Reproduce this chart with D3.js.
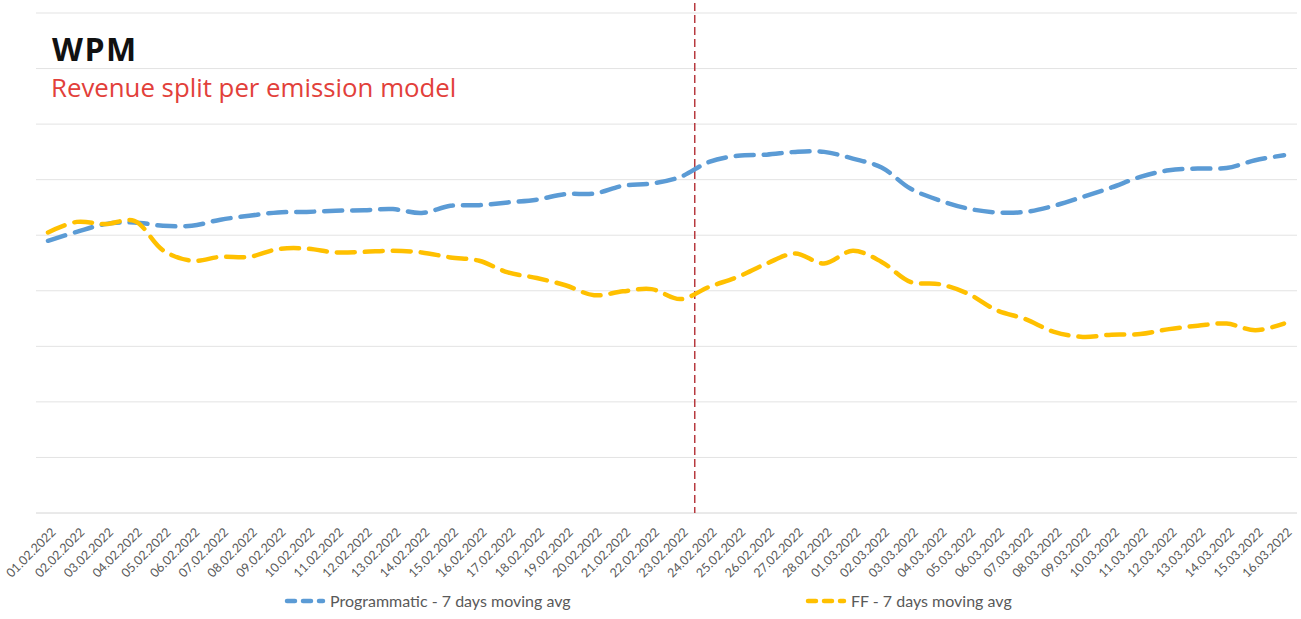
<!DOCTYPE html>
<html>
<head>
<meta charset="utf-8">
<script src="https://cdn.jsdelivr.net/npm/d3@7/dist/d3.min.js"></script>
<style>
  html, body { margin: 0; padding: 0; background: #fff; }
  svg { display: block; }
</style>
</head>
<body>
<svg id="chart" width="1301" height="619"></svg>
<script>
const dates = [
  "01.02.2022","02.02.2022","03.02.2022","04.02.2022","05.02.2022","06.02.2022","07.02.2022",
  "08.02.2022","09.02.2022","10.02.2022","11.02.2022","12.02.2022","13.02.2022","14.02.2022",
  "15.02.2022","16.02.2022","17.02.2022","18.02.2022","19.02.2022","20.02.2022","21.02.2022",
  "22.02.2022","23.02.2022","24.02.2022","25.02.2022","26.02.2022","27.02.2022","28.02.2022",
  "01.03.2022","02.03.2022","03.03.2022","04.03.2022","05.03.2022","06.03.2022","07.03.2022",
  "08.03.2022","09.03.2022","10.03.2022","11.03.2022","12.03.2022","13.03.2022","14.03.2022",
  "15.03.2022","16.03.2022"
];
const programmatic = [
  49.0, 50.6, 52.0, 52.3, 51.7, 51.7, 52.8, 53.5, 54.1, 54.2, 54.4, 54.5, 54.7, 54.0,
  55.3, 55.4, 55.9, 56.4, 57.4, 57.5, 58.9, 59.3, 60.5, 63.2, 64.3, 64.5, 65.0, 65.0,
  63.8, 62.2, 58.4, 56.3, 54.8, 54.1, 54.2, 55.3, 56.9, 58.6, 60.5, 61.7, 62.0, 62.1,
  63.5, 64.4
];
const ff = [
  50.5, 52.4, 52.0, 52.6, 47.3, 45.4, 46.1, 46.1, 47.5, 47.6, 46.9, 47.0, 47.2, 46.9,
  46.0, 45.4, 43.3, 42.3, 41.0, 39.2, 39.9, 40.3, 38.5, 40.7, 42.5, 44.9, 46.7, 44.9,
  47.2, 45.2, 41.6, 41.2, 39.5, 36.5, 34.9, 32.6, 31.7, 32.1, 32.2, 33.1, 33.7, 34.1,
  32.9, 34.1
];
const gridTicks = [0, 10, 20, 30, 40, 50, 60, 70, 80, 90];
const markerDate = "24.02.2022";
const seriesNames = ["Programmatic - 7 days moving avg", "FF - 7 days moving avg"];
const seriesColors = ["#5b9bd5", "#ffc000"];

const svg = d3.select("#chart");
const plotLeft = 36, plotRight = 1297, plotTop = 13, plotBottom = 513;

const x = d3.scalePoint().domain(dates).range([48, 1284]);
const y = d3.scaleLinear().domain([0, 90]).range([plotBottom, plotTop]);

// gridlines
svg.append("g").selectAll("line").data(gridTicks.filter(t => t > 0)).join("line")
  .attr("x1", plotLeft).attr("x2", plotRight)
  .attr("y1", d => y(d)).attr("y2", d => y(d))
  .attr("stroke", "#e3e3e3").attr("stroke-width", 1);

// x axis
const xAxis = svg.append("g").attr("transform", `translate(0,${plotBottom})`)
  .call(d3.axisBottom(x).tickSize(0).tickPadding(0));
xAxis.select(".domain").attr("d", `M${plotLeft},0H${plotRight}`).attr("stroke", "#d4d4d4");
xAxis.selectAll(".tick text")
  .attr("text-anchor", "end")
  .attr("transform", "translate(5,17) rotate(-45)")
  .attr("dy", "0.35em")
  .attr("font-family", "Lato, 'Open Sans', sans-serif")
  .attr("font-size", 12.5)
  .attr("fill", "#595959");

// vertical marker line
const mi = dates.indexOf(markerDate);
const mx = (x(dates[mi - 1]) + x(dates[mi])) / 2;
svg.append("line")
  .attr("x1", mx).attr("x2", mx).attr("y1", 3).attr("y2", plotBottom)
  .attr("stroke", "#b73a3f").attr("stroke-width", 1.5)
  .attr("stroke-dasharray", "8,4");

// lines
const line = d3.line()
  .x((d, i) => x(dates[i]))
  .y(d => y(d))
  .curve(d3.curveCatmullRom.alpha(0.5));

[programmatic, ff].forEach((s, k) => {
  svg.append("path")
    .attr("d", line(s))
    .attr("fill", "none")
    .attr("stroke", seriesColors[k])
    .attr("stroke-width", 4.5)
    .attr("stroke-linecap", "round")
    .attr("stroke-dasharray", "18,10");
});

// title
svg.append("text").attr("x", 52).attr("y", 61)
  .attr("font-family", "'Open Sans', Lato, sans-serif")
  .attr("font-weight", "bold").attr("font-size", 32).attr("fill", "#111")
  .attr("letter-spacing", 1.5)
  .text("WPM");
svg.append("text").attr("x", 51).attr("y", 97)
  .attr("font-family", "'Open Sans', Lato, sans-serif")
  .attr("font-size", 25.8).attr("fill", "#e2403a")
  .text("Revenue split per emission model");

// legend
const legendX = [287, 808];
seriesNames.forEach((name, k) => {
  const g = svg.append("g").attr("transform", `translate(${legendX[k]},601)`);
  g.append("line").attr("x1", 0).attr("x2", 36).attr("y1", 0).attr("y2", 0)
    .attr("stroke", seriesColors[k]).attr("stroke-width", 4.5)
    .attr("stroke-linecap", "round").attr("stroke-dasharray", "8,8");
  g.append("text").attr("x", 43).attr("y", 0).attr("dy", "0.35em")
    .attr("font-family", "Lato, 'Open Sans', sans-serif")
    .attr("font-size", 16).attr("fill", "#595959")
    .text(name);
});
</script>
</body>
</html>
